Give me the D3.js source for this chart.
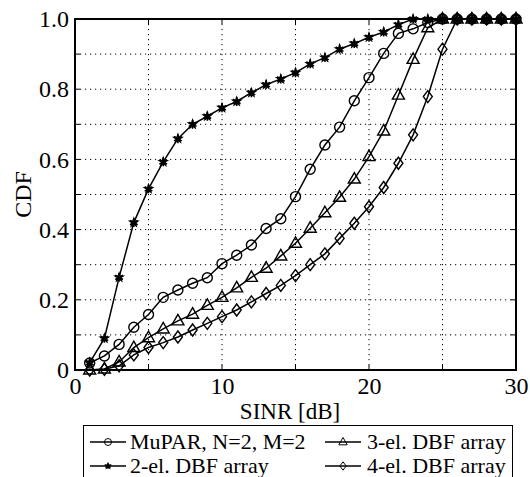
<!DOCTYPE html>
<html>
<head>
<meta charset="utf-8">
<script src="https://cdn.jsdelivr.net/npm/d3@7"></script>
<style>
  body { margin: 0; background: #fff; }
  text { font-family: "Liberation Serif", "Times New Roman", serif; fill: #000; }
</style>
</head>
<body>
<svg id="chart"></svg>
<script>
// SINR values in dB (x positions of the markers)
const sinr = [1,2,3,4,5,6,7,8,9,10,11,12,13,14,15,16,17,18,19,20,21,22,23,24,25,26,27,28,29,30];

// CDF values
const mupar = [0.02,0.04,0.073,0.122,0.158,0.207,0.228,0.247,0.263,0.303,0.327,0.356,0.403,0.431,0.494,0.572,0.641,0.692,0.767,0.833,0.902,0.959,0.972,0.99,1,1,1,1,1,1];
const dbf2 = [0.021,0.09,0.264,0.42,0.516,0.593,0.659,0.70,0.723,0.747,0.765,0.79,0.813,0.829,0.847,0.872,0.89,0.914,0.93,0.948,0.963,0.984,1,1,1,1,1,1,1,1];
const dbf3 = [0.0,0.003,0.023,0.064,0.092,0.117,0.14,0.159,0.184,0.207,0.234,0.264,0.29,0.325,0.361,0.404,0.448,0.492,0.544,0.608,0.681,0.783,0.885,0.975,1,1,1,1,1,1];
const dbf4 = [0.0,0.002,0.012,0.043,0.064,0.078,0.094,0.114,0.133,0.152,0.171,0.194,0.218,0.241,0.269,0.3,0.331,0.375,0.418,0.465,0.52,0.589,0.67,0.779,0.914,1,1,1,1,1];

const seriesNames = ["MuPAR, N=2, M=2", "2-el. DBF array", "3-el. DBF array", "4-el. DBF array"];
const seriesMarkers = ["circle", "star", "triangle", "diamond"];

const xTickLabels = [0, 10, 20, 30];
const yTickLabels = [0, 0.2, 0.4, 0.6, 0.8, 1.0];
const xGrid = [5, 10, 15, 20, 25];
const yGrid = [0.1, 0.2, 0.3, 0.4, 0.5, 0.6, 0.7, 0.8, 0.9];

const width = 530, height = 477;
const margin = {top: 19, right: 14, bottom: 107, left: 75};
const innerW = width - margin.left - margin.right;
const innerH = height - margin.top - margin.bottom;

const svg = d3.select("#chart").attr("width", width).attr("height", height);
const g = svg.append("g").attr("transform", `translate(${margin.left},${margin.top})`);

const x = d3.scaleLinear().domain([0, 30]).range([0, innerW]);
const y = d3.scaleLinear().domain([0, 1]).range([innerH, 0]);

// dotted grid
g.selectAll(".gx").data(xGrid).join("line")
  .attr("x1", d => x(d)).attr("x2", d => x(d))
  .attr("y1", 0).attr("y2", innerH)
  .attr("stroke", "#000").attr("stroke-width", 1).attr("stroke-dasharray", "1.2,3.8");
g.selectAll(".gy").data(yGrid).join("line")
  .attr("y1", d => y(d)).attr("y2", d => y(d))
  .attr("x1", 0).attr("x2", innerW)
  .attr("stroke", "#000").attr("stroke-width", 1).attr("stroke-dasharray", "1.2,3.8");

// axes (ticks pointing inward, labels only on major values)
const xAxis = d3.axisBottom(x).tickValues(xTickLabels).tickSize(0).tickPadding(7).tickFormat(d3.format("d"));
const yAxis = d3.axisLeft(y).tickValues(yTickLabels).tickSize(0).tickPadding(6)
  .tickFormat(d => d === 0 ? "0" : d3.format(".1f")(d));

const xAxisG = g.append("g").attr("transform", `translate(0,${innerH})`).call(xAxis);
const yAxisG = g.append("g").call(yAxis);
[xAxisG, yAxisG].forEach(a => {
  a.select(".domain").remove();
  a.selectAll("text").style("font-size", "24px").style("font-family", "Liberation Serif");
});

// small inward ticks on all four sides
const tickLen = 5;
g.selectAll(".tb").data(xGrid).join("line")
  .attr("x1", d => x(d)).attr("x2", d => x(d)).attr("y1", innerH).attr("y2", innerH - tickLen)
  .attr("stroke", "#000");
g.selectAll(".tt").data(xGrid).join("line")
  .attr("x1", d => x(d)).attr("x2", d => x(d)).attr("y1", 0).attr("y2", tickLen)
  .attr("stroke", "#000");
g.selectAll(".tl").data(yGrid).join("line")
  .attr("y1", d => y(d)).attr("y2", d => y(d)).attr("x1", 0).attr("x2", tickLen)
  .attr("stroke", "#000");
g.selectAll(".tr").data(yGrid).join("line")
  .attr("y1", d => y(d)).attr("y2", d => y(d)).attr("x1", innerW).attr("x2", innerW - tickLen)
  .attr("stroke", "#000");

// box
g.append("rect").attr("width", innerW).attr("height", innerH)
  .attr("fill", "none").attr("stroke", "#000").attr("stroke-width", 2);

// marker drawing
function drawMarker(sel, type) {
  if (type === "circle") {
    sel.append("circle").attr("r", 5).attr("fill", "none").attr("stroke", "#000").attr("stroke-width", 1.4);
  } else if (type === "triangle") {
    sel.append("path").attr("d", "M0,-6.5L6,4L-6,4Z").attr("fill", "none").attr("stroke", "#000").attr("stroke-width", 1.4);
  } else if (type === "diamond") {
    sel.append("path").attr("d", "M0,-6L4.5,0L0,6L-4.5,0Z").attr("fill", "none").attr("stroke", "#000").attr("stroke-width", 1.4);
  } else if (type === "star") {
    sel.append("path").attr("d", d3.symbol(d3.symbolStar, 45)).attr("fill", "#000");
    sel.append("path").attr("d", d3.symbol(d3.symbolAsterisk, 55)).attr("fill", "none").attr("stroke", "#000").attr("stroke-width", 1.6);
  }
}

const allSeries = [mupar, dbf2, dbf3, dbf4];
const line = d3.line().x((d, i) => x(sinr[i])).y(d => y(d));

allSeries.forEach((vals, k) => {
  g.append("path").datum(vals).attr("d", line)
    .attr("fill", "none").attr("stroke", "#000").attr("stroke-width", 1.5);
  g.selectAll(`.m${k}`).data(vals).join("g")
    .attr("class", `m${k}`)
    .attr("transform", (d, i) => `translate(${x(sinr[i])},${y(d)})`)
    .each(function() { drawMarker(d3.select(this), seriesMarkers[k]); });
});

// axis titles
svg.append("text")
  .attr("x", 290).attr("y", 419)
  .attr("text-anchor", "middle").style("font-size", "23px")
  .text("SINR [dB]");
svg.append("text")
  .attr("transform", `translate(31,${margin.top + innerH / 2}) rotate(-90)`)
  .attr("text-anchor", "middle").style("font-size", "24px")
  .text("CDF");

// legend
const legend = svg.append("g");
legend.append("rect").attr("x", 83.5).attr("y", 425.5).attr("width", 429).attr("height", 70)
  .attr("fill", "#fff").attr("stroke", "#000").attr("stroke-width", 1);

const legendPos = [
  {lx: 90, tx: 130, y: 442},
  {lx: 90, tx: 130, y: 466},
  {lx: 325, tx: 367, y: 442},
  {lx: 325, tx: 367, y: 466}
];
seriesNames.forEach((name, k) => {
  const p = legendPos[k];
  const item = legend.append("g");
  item.append("line").attr("x1", p.lx).attr("x2", p.lx + 36).attr("y1", p.y).attr("y2", p.y)
    .attr("stroke", "#000").attr("stroke-width", 1.4);
  const m = item.append("g").attr("transform", `translate(${p.lx + 18},${p.y})scale(0.7)`);
  drawMarker(m, seriesMarkers[k]);
  item.append("text").attr("x", p.tx).attr("y", p.y).attr("dy", "0.3em")
    .style("font-size", "22px").text(name);
});
</script>
</body>
</html>
